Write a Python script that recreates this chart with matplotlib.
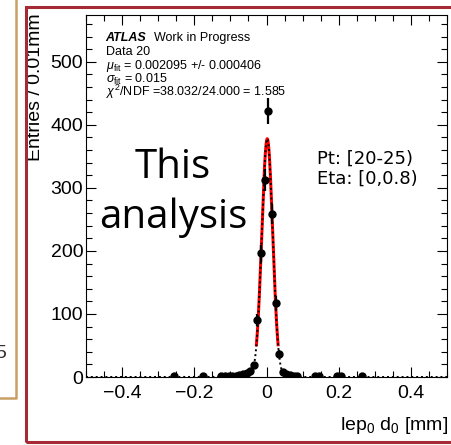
import numpy as np
import matplotlib.pyplot as plt
from matplotlib.ticker import MultipleLocator
from matplotlib.patches import Rectangle
from matplotlib.lines import Line2D

plt.rcParams['font.family'] = ['Liberation Sans', 'DejaVu Sans']
plt.rcParams['mathtext.fontset'] = 'custom'
plt.rcParams['mathtext.rm'] = 'Liberation Sans'
plt.rcParams['mathtext.it'] = 'Liberation Sans:italic'
plt.rcParams['mathtext.bf'] = 'Liberation Sans:bold'

# lep0 d0 histogram, 0.01 mm bins (only filled bins)
d0 = [-0.255, -0.175, -0.125, -0.115, -0.105, -0.095, -0.085, -0.075, -0.065,
      -0.055, -0.045, -0.035, -0.025, -0.015, -0.005, 0.005, 0.015, 0.025,
      0.035, 0.045, 0.055, 0.065, 0.075, 0.085, 0.135, 0.145, 0.195, 0.205, 0.265]
entries = [1, 1, 1, 1, 1, 1, 2, 3, 4,
           6, 10, 19, 90, 196, 313, 422, 258, 117,
           37, 8, 4, 3, 2, 1, 1, 1, 1, 2, 1]

# gaussian fit result
fit_mu = 0.002095
fit_mu_err = 0.000406
fit_sigma = 0.015
fit_peak = 378
chi2 = 38.032
ndf = 24.000

W, H = 451, 445
fig = plt.figure(figsize=(W / 100, H / 100), dpi=100)
ax = fig.add_axes([86 / W, 68 / H, 361 / W, 362.5 / H])

def gaus(x):
    return fit_peak * np.exp(-0.5 * ((x - fit_mu) / fit_sigma) ** 2)

# fit range drawn solid red, full function dotted
xr = np.linspace(fit_mu - 2 * fit_sigma, fit_mu + 2 * fit_sigma, 200)
ax.plot(xr, gaus(xr), color='red', lw=2.2, zorder=2)
xf = np.linspace(-0.5, 0.5, 2001)
ax.plot(xf, gaus(xf), color='black', lw=1.4, ls=(0, (1, 1.5)), zorder=3, clip_on=False)

ax.errorbar(d0, entries, yerr=np.sqrt(entries), fmt='o', color='black',
            ms=5, elinewidth=1.6, capsize=0, zorder=4)

ax.set_xlim(-0.5, 0.5)
ax.set_ylim(0, 575)
ax.xaxis.set_major_locator(MultipleLocator(0.2))
ax.xaxis.set_minor_locator(MultipleLocator(0.05))
ax.yaxis.set_major_locator(MultipleLocator(100))
ax.yaxis.set_minor_locator(MultipleLocator(20))
ax.tick_params(which='both', direction='in', top=True, right=True, width=0.8, labelsize=14)
ax.tick_params(which='major', length=7.5)
ax.tick_params(which='minor', length=4)
ax.tick_params(axis='x', pad=6)
ax.tick_params(axis='y', pad=2)
ax.set_xticks([-0.4, -0.2, 0, 0.2, 0.4])
ax.set_xticklabels(['\u22120.4', '\u22120.2', '0', '0.2', '0.4'])
for s in ax.spines.values():
    s.set_linewidth(0.8)

fig.text(448 / W, 1 - 430 / H, r'lep$_0$ d$_0$ [mm]', ha='right', va='baseline', fontsize=14)
fig.text(35.5 / W, 1 - 13 / H, 'Entries / 0.01mm', rotation=90, ha='center', va='top', fontsize=14)

# fit summary box
tx = (105.7 - 86) / 361
ax.text(tx, (377 - 40.7) / 362.5, 'ATLAS', transform=ax.transAxes, fontsize=9,
        fontweight='bold', style='italic', va='baseline')
ax.text((154 - 86) / 361, (377 - 40.7) / 362.5, 'Work in Progress', transform=ax.transAxes,
        fontsize=9, va='baseline')
lines = ['Data 20',
         r'$\mu_{\rm fit}$ = %.6f +/- %.6f' % (fit_mu, fit_mu_err),
         r'$\sigma_{\rm fit}$ = %.3f' % fit_sigma,
         r'$\chi^{2}$/NDF =%.3f/%.3f = %.3f' % (chi2, ndf, chi2 / ndf)]
for i, t in enumerate(lines):
    y = 55 + 13.8 * i
    ax.text(tx, (377 - y) / 362.5, t, transform=ax.transAxes, fontsize=9, va='baseline')

fig.text(173 / W, 1 - 178 / H, 'This', ha='center', va='baseline', fontsize=29, family='Open Sans')
fig.text(173 / W, 1 - 228 / H, 'analysis', ha='center', va='baseline', fontsize=29, family='Open Sans')
fig.text(317 / W, 1 - 164 / H, 'Pt: [20-25)', ha='left', va='baseline', fontsize=13, family='DejaVu Sans')
fig.text(317 / W, 1 - 183.5 / H, 'Eta: [0,0.8)', ha='left', va='baseline', fontsize=13, family='DejaVu Sans')

# slide frames around the plot
fig.patches.append(Rectangle((26 / W, 1 - 441.5 / H), 440 / W, 435 / H, transform=fig.transFigure,
                             fill=False, edgecolor='#A52A36', lw=2.2, zorder=10))
fig.lines.append(Line2D([16 / W, 16 / W, -0.02], [1.02, 1 - 398 / H, 1 - 398 / H],
                        transform=fig.transFigure, color='#C9A064', lw=1.8, zorder=10))
fig.text(-5 / W, 1 - 358 / H, '5', fontsize=14, color='#333333', va='baseline')

fig.savefig('out.png', dpi=100)
